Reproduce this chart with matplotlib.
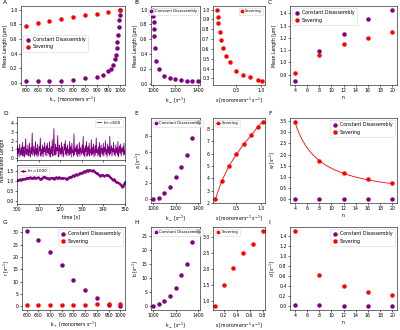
import numpy as np
import matplotlib
matplotlib.use('Agg')
import matplotlib.pyplot as plt

PURPLE = '#800080'
RED = '#ff0000'

# ---------------- data ----------------
# A
kplus_sev_A = [600, 650, 700, 750, 800, 850, 900, 950, 1000]
len_sev_A = [0.78, 0.815, 0.84, 0.87, 0.90, 0.925, 0.945, 0.965, 1.0]
kplus_cd_A = [600, 650, 700, 750, 800, 850, 900, 925, 950, 962, 970, 976, 981,
              985, 988, 991, 993, 995, 997, 999]
len_cd_A = [0.02, 0.02, 0.025, 0.03, 0.04, 0.06, 0.085, 0.11, 0.16, 0.19, 0.24,
            0.32, 0.38, 0.47, 0.56, 0.66, 0.76, 0.86, 0.92, 1.0]
# B
kminus_B = [1002, 1004, 1006, 1008, 1010, 1015, 1030, 1050, 1100, 1150, 1200,
            1250, 1300, 1350, 1400]
len_cd_B = [1.0, 0.92, 0.83, 0.74, 0.65, 0.48, 0.31, 0.20, 0.10, 0.07, 0.06,
            0.05, 0.04, 0.035, 0.03]
s_B = [0.11, 0.125, 0.14, 0.165, 0.19, 0.23, 0.30, 0.37, 0.50, 0.64, 0.78, 0.93, 1.02]
len_sev_B = [1.0, 0.92, 0.86, 0.77, 0.69, 0.61, 0.53, 0.47, 0.38, 0.34, 0.31, 0.28, 0.27]
# C
n_vals = [4, 8, 12, 16, 20]
len_cd_C = [0.845, 1.095, 1.23, 1.355, 1.43]
len_sev_C = [0.915, 1.06, 1.15, 1.20, 1.25]
# D
t_range = (300, 350)
norm_len_600 = [
    0.2, 1.4, 0.5, 1.1, 0.1, 1.6, 0.7, 0.3, 1.2, 0.4,
    1.8, 0.2, 0.9, 1.3, 0.1, 0.6, 2.2, 0.4, 1.0, 0.3,
    1.5, 0.6, 0.2, 1.7, 0.8, 0.1, 1.2, 0.5, 2.9, 0.3,
    0.9, 1.4, 0.2, 0.7, 1.9, 0.4, 1.1, 0.1, 1.6, 0.6,
    0.3, 1.3, 0.8, 2.3, 0.2, 1.0, 0.5, 1.5, 0.1, 1.2,
    0.7, 1.8, 0.3, 0.9, 1.4, 0.2, 1.7, 0.6, 1.1, 0.4,
    1.9, 0.1, 0.8, 1.3, 0.5, 2.1, 0.2, 1.0, 3.4, 0.6,
    0.3, 1.6, 0.4, 1.2, 0.8, 2.6, 0.1, 0.9, 1.5, 0.3,
    1.1, 0.5, 1.8, 0.2, 1.3, 0.7, 0.1, 1.6, 0.9, 2.0,
    0.4, 1.2, 0.2, 1.5, 0.6, 1.0, 0.3, 1.9, 0.5, 1.3,
    0.1, 1.7, 0.6, 0.9, 0.2, 2.8, 0.4, 1.1, 0.7, 1.4,
    0.3, 1.6, 0.1, 1.0, 0.5, 1.8, 0.2, 1.2, 0.8, 0.4,
    1.5, 0.6, 2.5, 0.3, 1.1, 0.1, 1.4, 0.7, 1.9, 0.2,
    0.9, 1.3, 0.4, 1.7, 0.2, 1.0, 0.6, 2.1, 0.3, 1.2,
    0.5, 1.6, 0.1, 0.8, 1.4, 0.3, 2.3, 0.6, 1.0, 0.2,
    1.3, 0.4, 1.8, 0.1, 0.9, 1.5, 0.5, 1.1, 0.3, 1.7,
    0.2, 1.2, 0.7, 2.0, 0.4, 1.0, 0.1, 1.6, 0.6, 1.3,
    0.3, 2.5, 0.5, 0.9, 1.4, 0.2, 1.1, 0.7, 1.8, 0.4,
    1.0, 0.2, 1.5, 0.6, 1.2, 0.3, 1.9, 0.1, 0.8, 1.4,
    0.5, 1.6, 0.2, 1.1, 0.7, 1.3, 0.3, 1.7, 0.4, 0.9,
]
norm_len_1000 = [
    1.03, 1.05, 1.06, 1.08, 1.07, 1.09, 1.12, 1.10, 1.13, 1.15,
    1.14, 1.16, 1.18, 1.15, 1.13, 1.16, 1.19, 1.17, 1.15, 1.18,
    1.16, 1.12, 1.10, 1.14, 1.18, 1.22, 1.20, 1.17, 1.15, 1.13,
    1.11, 1.14, 1.17, 1.15, 1.12, 1.16, 1.18, 1.15, 1.17, 1.20,
    1.16, 1.13, 1.15, 1.17, 1.14, 1.12, 1.10, 1.13, 1.18, 1.22,
    1.20, 1.24, 1.28, 1.26, 1.30, 1.34, 1.32, 1.36, 1.40, 1.38,
    1.42, 1.45, 1.48, 1.46, 1.50, 1.55, 1.52, 1.56, 1.53, 1.50,
    1.54, 1.51, 1.47, 1.42, 1.38, 1.33, 1.30, 1.27, 1.29, 1.31,
    1.28, 1.26, 1.29, 1.32, 1.28, 1.24, 1.18, 1.14, 1.10, 1.05,
    1.08, 1.02, 0.97, 0.93, 0.88, 0.84, 0.78, 0.72, 0.76, 0.86,
    0.95,
]
# E
kminus_E = [1000, 1050, 1100, 1150, 1200, 1250, 1300, 1350, 1400]
a_cd_E = [0.0, 0.2, 0.8, 1.6, 2.75, 4.05, 5.65, 7.75, 9.8]
s_E = [0.075, 0.2, 0.35, 0.5, 0.65, 0.8, 0.93, 1.03]
a_sev_E = [2.3, 3.75, 5.0, 5.95, 6.8, 7.5, 8.2, 8.6]
# F
w_cd_F = [0.0, 0.0, 0.0, 0.0, 0.0]
w_sev_F = [3.45, 1.72, 1.17, 0.90, 0.72]
# G
kplus_G = [600, 650, 700, 750, 800, 850, 900, 950, 1000]
r_cd_G = [30.7, 26.8, 22.0, 16.6, 10.8, 6.7, 3.3, 0.6, 0.0]
r_sev_G = [0.6, 0.6, 0.6, 0.7, 0.7, 0.7, 0.75, 0.75, 0.8]
# H
kminus_H = [1000, 1050, 1100, 1150, 1200, 1250, 1300, 1350, 1400]
b_cd_H = [0.0, 0.7, 1.7, 3.75, 6.4, 11.1, 15.1, 22.9, 26.8]
s_H = [0.07, 0.2, 0.35, 0.5, 0.65, 0.8]
b_sev_H = [0.85, 1.5, 2.05, 2.5, 2.8, 3.2]
# I
d_cd_I = [0.02, 0.015, 0.0, 0.0, 0.0]
d_sev_I = [1.5, 0.63, 0.40, 0.28, 0.22]

LBL_CD = 'Constant Disassembly'
LBL_SEV = 'Severing'

# ---------------- style ----------------
plt.rcParams.update({
    'font.size': 3.3,
    'axes.linewidth': 0.4,
    'xtick.major.width': 0.4,
    'ytick.major.width': 0.4,
    'xtick.major.size': 1.5,
    'ytick.major.size': 1.5,
    'xtick.major.pad': 1.0,
    'ytick.major.pad': 1.0,
    'axes.labelpad': 1.2,
    'legend.fontsize': 3.4,
})

W, H = 400, 330
fig = plt.figure(figsize=(W / 100, H / 100), dpi=100)


def ax_px(l, t, r, b):
    return fig.add_axes([l / W, 1 - b / H, (r - l) / W, (b - t) / H])


MS = 3.2


def pts(ax, x, y, c, label=None, **kw):
    ax.plot(x, y, 'o', color=c, ms=MS, mew=0, label=label, **kw)


def leg(ax, fs=3.4, **kw):
    ax.legend(handletextpad=0.6, borderpad=0.45, labelspacing=0.45,
              handlelength=1.0, frameon=True, fancybox=True, framealpha=0.8,
              edgecolor='#cccccc', fontsize=fs, **kw).get_frame().set_linewidth(0.4)


def leg_small(ax, **kw):
    ax.legend(handletextpad=0.5, borderpad=0.35, labelspacing=0.4,
              handlelength=0.9, frameon=True, fancybox=True, framealpha=0.8,
              edgecolor='#cccccc', fontsize=2.7, markerscale=0.85,
              **kw).get_frame().set_linewidth(0.4)


def letter(x, y, s):
    fig.text(x / W, 1 - y / H, s, fontsize=4.2, va='top', ha='left')


kplus_label = r'k$_+$ [monomers s$^{-1}$]'
kminus_label = r'k$_-$ [s$^{-1}$]'
s_label = r's [monomers$^{-1}$ s$^{-1}$]'

ROW1 = (6, 85)
ROW2 = (118, 203)
ROW3 = (227, 310)

# A
ax = ax_px(21, ROW1[0], 125, ROW1[1])
pts(ax, kplus_cd_A, len_cd_A, PURPLE, LBL_CD)
pts(ax, kplus_sev_A, len_sev_A, RED, LBL_SEV)
ax.set_xticks(np.arange(600, 1001, 50))
ax.set_yticks(np.arange(0, 1.01, 0.2))
ax.set_xlabel(kplus_label)
ax.set_ylabel('Mean Length [μm]')
leg(ax, loc='upper left', bbox_to_anchor=(0.0, 0.66))
letter(3, 0, 'A')

# B
ax = ax_px(151, ROW1[0], 200, ROW1[1])
pts(ax, kminus_B, len_cd_B, PURPLE, LBL_CD)
ax.set_xticks([1000, 1200, 1400])
ax.set_yticks(np.arange(0, 1.01, 0.2))
ax.set_xlabel(kminus_label)
ax.set_ylabel('Mean Length [μm]')
leg_small(ax, loc='upper right')
ax = ax_px(213, ROW1[0], 265, ROW1[1])
pts(ax, s_B, len_sev_B, RED, LBL_SEV)
ax.set_xticks([0.5, 1.0])
ax.set_xlim(0.03, 1.08)
ax.set_yticks(np.arange(0.3, 1.01, 0.1))
ax.set_xlabel(s_label)
leg_small(ax, loc='upper right')
letter(134, 0, 'B')

# C
ax = ax_px(290, ROW1[0], 397, ROW1[1])
pts(ax, n_vals, len_cd_C, PURPLE, LBL_CD)
pts(ax, n_vals, len_sev_C, RED, LBL_SEV)
ax.set_xticks(np.arange(4, 21, 2))
ax.set_yticks(np.arange(0.9, 1.41, 0.1))
ax.set_xlabel('n')
ax.set_ylabel('Mean Length [μm]')
leg(ax, loc='upper left')
letter(268, 0, 'C')

# D
t600 = np.linspace(t_range[0], t_range[1], len(norm_len_600))
t1000 = np.linspace(t_range[0], t_range[1], len(norm_len_1000))
ax1 = ax_px(17, 117, 125, 160)
ax1.plot(t600, norm_len_600, color=PURPLE, lw=0.6, label=r'k+=600')
ax1.set_xlim(*t_range)
ax1.set_ylim(-0.25, 4.75)
ax1.set_yticks([0, 1, 2, 3, 4])
ax1.set_xticks(np.arange(300, 351, 10))
ax1.set_xticklabels([])
leg(ax1, fs=3.0, loc='upper right')
ax2 = ax_px(17, 165, 125, 204)
ax2.plot(t1000, norm_len_1000, color=PURPLE, lw=0.9, marker='o', ms=0.8,
         label=r'k+=1000')
ax2.set_xlim(*t_range)
ax2.set_ylim(-0.15, 1.8)
ax2.set_yticks([0.0, 0.5, 1.0, 1.5])
ax2.set_xticks(np.arange(300, 351, 10))
ax2.set_xlabel('time [s]')
leg(ax2, fs=3.0, loc='upper left')
fig.text(3 / W, 1 - 160 / H, 'Normalized Length', rotation=90, va='center',
         ha='center', fontsize=3.3)
letter(3, 111, 'D')

# E
ax = ax_px(151, ROW2[0], 200, ROW2[1])
pts(ax, kminus_E, a_cd_E, PURPLE, LBL_CD)
ax.set_xticks([1000, 1200, 1400])
ax.set_yticks([0, 2, 4, 6, 8])
ax.set_xlabel(kminus_label)
ax.set_ylabel(r'a [s$^{-1}$]')
leg_small(ax, loc='upper left')
ax = ax_px(213, ROW2[0], 265, ROW2[1])
ax.plot(s_E, a_sev_E, '-o', color=RED, ms=MS, mew=0, lw=0.6, label=LBL_SEV)
ax.set_xticks([0.5, 1.0])
ax.set_yticks([2, 3, 4, 5, 6, 7, 8])
ax.set_xlabel(s_label)
leg_small(ax, loc='upper left')
letter(134, 111, 'E')

# F
ax = ax_px(290, ROW2[0], 397, ROW2[1])
n_arr = np.array(n_vals, dtype=float)
w_arr = np.array(w_sev_F)
c_fit = np.sum(w_arr / n_arr) / np.sum(1 / n_arr ** 2)
n_fine = np.linspace(n_arr.min(), n_arr.max(), 200)
ax.plot(n_fine, c_fit / n_fine, color=RED, lw=0.6)
pts(ax, n_vals, w_cd_F, PURPLE, LBL_CD)
pts(ax, n_vals, w_sev_F, RED, LBL_SEV)
ax.set_xticks(np.arange(4, 21, 2))
ax.set_yticks(np.arange(0, 3.51, 0.5))
ax.set_xlabel('n')
ax.set_ylabel(r'w [s$^{-1}$]')
leg(ax, loc='upper right')
letter(268, 111, 'F')

# G
ax = ax_px(22, ROW3[0], 125, ROW3[1])
pts(ax, kplus_G, r_cd_G, PURPLE, LBL_CD)
pts(ax, kplus_G, r_sev_G, RED, LBL_SEV)
ax.set_xticks(np.arange(600, 1001, 50))
ax.set_yticks(np.arange(0, 31, 5))
ax.set_xlabel(kplus_label)
ax.set_ylabel(r'r [s$^{-1}$]')
leg(ax, loc='upper right')
letter(3, 220, 'G')

# H
ax = ax_px(151, ROW3[0], 200, ROW3[1])
pts(ax, kminus_H, b_cd_H, PURPLE, LBL_CD)
ax.set_xticks([1000, 1200, 1400])
ax.set_yticks(np.arange(0, 26, 5))
ax.set_xlabel(kminus_label)
ax.set_ylabel(r'b [s$^{-1}$]')
leg_small(ax, loc='upper left')
ax = ax_px(213, ROW3[0], 265, ROW3[1])
pts(ax, s_H, b_sev_H, RED, LBL_SEV)
ax.set_xticks([0.2, 0.4, 0.6, 0.8])
ax.set_yticks(np.arange(1.0, 3.01, 0.5))
ax.set_xlabel(s_label)
leg_small(ax, loc='upper left')
letter(134, 220, 'H')

# I
ax = ax_px(290, ROW3[0], 397, ROW3[1])
pts(ax, n_vals, d_cd_I, PURPLE, LBL_CD)
pts(ax, n_vals, d_sev_I, RED, LBL_SEV)
ax.set_xticks(np.arange(4, 21, 2))
ax.set_yticks(np.arange(0, 1.41, 0.2))
ax.set_xlabel('n')
ax.set_ylabel(r'd [s$^{-1}$]')
leg(ax, loc='upper right')
letter(268, 220, 'I')

fig.savefig('out.png', dpi=100)
